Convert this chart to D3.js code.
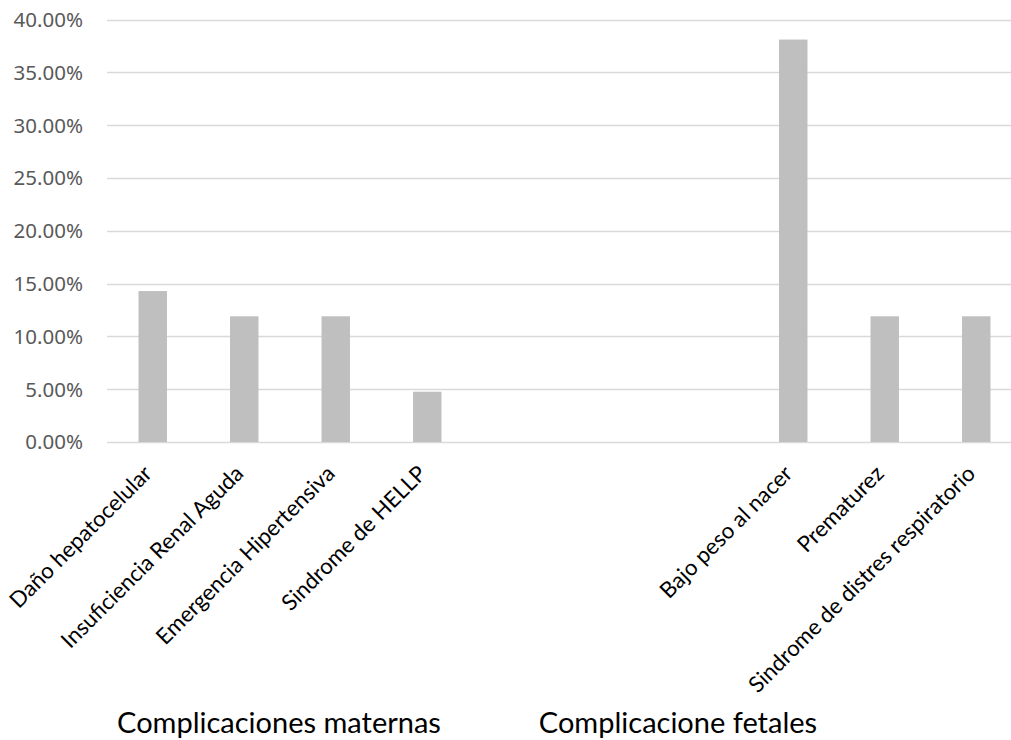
<!DOCTYPE html>
<html>
<head>
<meta charset="utf-8">
<script src="https://cdn.jsdelivr.net/npm/d3@7"></script>
<style>
  html, body { margin: 0; padding: 0; background: #fff; }
  svg { display: block; }
</style>
</head>
<body>
<svg id="chart" width="1011" height="740"></svg>
<script>
// Complications (percent of cases); empty slots separate the two groups
const categories = [
  "Daño hepatocelular",
  "Insuficiencia Renal Aguda",
  "Emergencia Hipertensiva",
  "Sindrome de HELLP",
  "", "", "",
  "Bajo peso al nacer",
  "Prematurez",
  "Sindrome de distres respiratorio"
];
const values = [14.29, 11.90, 11.90, 4.76, null, null, null, 38.10, 11.90, 11.90];
const groupLabels = ["Complicaciones maternas", "Complicacione fetales"];
const yTicks = [0, 5, 10, 15, 20, 25, 30, 35, 40];

const svg = d3.select("#chart");
const plot = { left: 107, right: 1022, top: 19.5, bottom: 442 };

const x = d3.scaleBand()
  .domain(d3.range(categories.length))
  .range([plot.left, plot.right])
  .paddingInner(0.689)
  .paddingOuter(0.3445);

const y = d3.scaleLinear().domain([0, 40]).range([plot.bottom, plot.top]);

// horizontal gridlines
svg.append("g")
  .selectAll("line")
  .data(yTicks)
  .join("line")
  .attr("x1", plot.left)
  .attr("x2", plot.right)
  .attr("y1", d => Math.round(y(d)) + 0.5)
  .attr("y2", d => Math.round(y(d)) + 0.5)
  .attr("stroke", "#d9d9d9")
  .attr("stroke-width", 1.3);

// y axis labels
const yAxis = d3.axisLeft(y)
  .tickValues(yTicks)
  .tickFormat(d => d.toFixed(2) + "%")
  .tickSize(0)
  .tickPadding(0);

svg.append("g")
  .attr("transform", "translate(83,0)")
  .call(yAxis)
  .call(g => g.select(".domain").remove())
  .call(g => g.selectAll("text")
    .attr("fill", "#595959")
    .attr("font-family", "'Noto Sans', sans-serif")
    .attr("font-size", 20.5)
    .attr("dy", "0.34em"));

// bars
const barData = values.map((v, i) => ({ i, v })).filter(d => d.v !== null);
svg.append("g")
  .selectAll("rect")
  .data(barData)
  .join("rect")
  .attr("x", d => x(d.i))
  .attr("width", x.bandwidth())
  .attr("y", d => y(d.v))
  .attr("height", d => y(0) - y(d.v))
  .attr("fill", "#bfbfbf");

// rotated category labels
const labelFont = "Lato, 'Noto Sans', sans-serif";
svg.append("g")
  .selectAll("text")
  .data(categories.map((c, i) => ({ c, i })).filter(d => d.c))
  .join("text")
  .attr("transform", d => `translate(${x(d.i) + x.bandwidth() / 2 + 0.5},${plot.bottom + 33}) rotate(-45)`)
  .attr("text-anchor", "end")
  .attr("font-family", labelFont)
  .attr("font-size", 22.2)
  .attr("fill", "#000")
  .text(d => d.c);

// group labels
const groupCenters = [279, 678];
svg.append("g")
  .selectAll("text")
  .data(groupLabels)
  .join("text")
  .attr("x", (d, i) => groupCenters[i])
  .attr("y", 733)
  .attr("text-anchor", "middle")
  .attr("font-family", labelFont)
  .attr("font-size", 29)
  .attr("fill", "#000")
  .text(d => d);
</script>
</body>
</html>
